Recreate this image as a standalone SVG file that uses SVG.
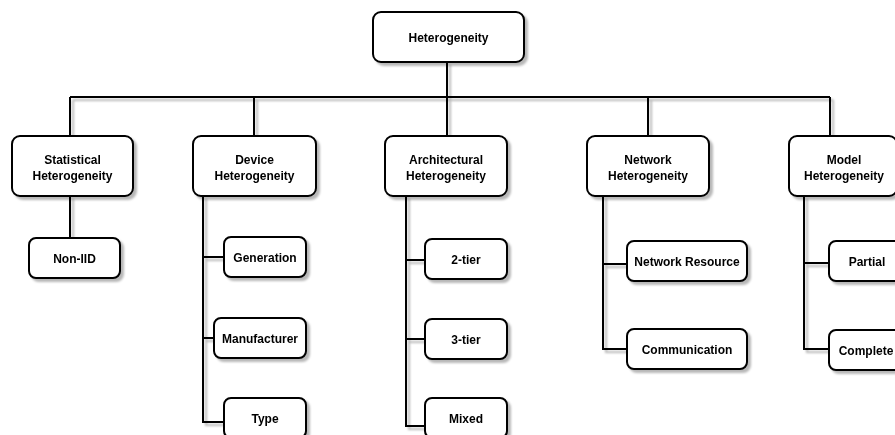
<svg xmlns="http://www.w3.org/2000/svg" width="895" height="435" viewBox="0 0 895 435">
  <defs>
    <filter id="shadow" x="-10%" y="-10%" width="130%" height="130%">
      <feDropShadow dx="3" dy="3" stdDeviation="0.8" flood-color="#000" flood-opacity="0.28"/>
    </filter>
    <style>
      .box { fill: #fff; stroke: #000; stroke-width: 2; }
      .lbl { font-family: "Liberation Sans", Arial, Helvetica, sans-serif; font-size: 12px; font-weight: bold; fill: #000; text-anchor: middle; }
      .wire { fill: none; stroke: #000; stroke-width: 2; }
    </style>
  </defs>
  <rect width="895" height="435" fill="#fff"/>

  <!-- connectors -->
  <g id="connectors" class="wire" filter="url(#shadow)">
    <path d="M447 62 V97"/>
    <path d="M70 97 H830"/>
    <path d="M70 97 V136 M254 97 V136 M447 97 V136 M648 97 V136 M830 97 V136"/>
    <path d="M70 196 V238"/>
    <path d="M203 196 V422 H224 M203 257 H224 M203 338 H214"/>
    <path d="M406 196 V426 H425 M406 260 H425 M406 339 H425"/>
    <path d="M603 196 V349 H627 M603 264 H627"/>
    <path d="M804 196 V349 H829 M804 263 H829"/>
  </g>

  <!-- root -->
  <g id="heterogeneity" filter="url(#shadow)">
    <rect class="box" x="373" y="12" width="151" height="50" rx="8"/>
    <text class="lbl" x="448.5" y="41.5">Heterogeneity</text>
  </g>

  <!-- categories -->
  <g id="statistical" filter="url(#shadow)">
    <rect class="box" x="12" y="136" width="121" height="60" rx="8"/>
    <text class="lbl" x="72.5" y="164">Statistical</text>
    <text class="lbl" x="72.5" y="180">Heterogeneity</text>
  </g>
  <g id="device" filter="url(#shadow)">
    <rect class="box" x="193" y="136" width="123" height="60" rx="8"/>
    <text class="lbl" x="254.5" y="164">Device</text>
    <text class="lbl" x="254.5" y="180">Heterogeneity</text>
  </g>
  <g id="architectural" filter="url(#shadow)">
    <rect class="box" x="385" y="136" width="122" height="60" rx="8"/>
    <text class="lbl" x="446" y="164">Architectural</text>
    <text class="lbl" x="446" y="180">Heterogeneity</text>
  </g>
  <g id="network" filter="url(#shadow)">
    <rect class="box" x="587" y="136" width="122" height="60" rx="8"/>
    <text class="lbl" x="648" y="164">Network</text>
    <text class="lbl" x="648" y="180">Heterogeneity</text>
  </g>
  <g id="model" filter="url(#shadow)">
    <rect class="box" x="789" y="136" width="108" height="60" rx="8"/>
    <text class="lbl" x="844" y="164">Model</text>
    <text class="lbl" x="844" y="180">Heterogeneity</text>
  </g>

  <!-- leaves -->
  <g id="non-iid" filter="url(#shadow)">
    <rect class="box" x="29" y="238" width="91" height="40" rx="7"/>
    <text class="lbl" x="74.5" y="262.5">Non-IID</text>
  </g>
  <g id="generation" filter="url(#shadow)">
    <rect class="box" x="224" y="237" width="82" height="40" rx="7"/>
    <text class="lbl" x="265" y="261.5">Generation</text>
  </g>
  <g id="manufacturer" filter="url(#shadow)">
    <rect class="box" x="214" y="318" width="92" height="40" rx="7"/>
    <text class="lbl" x="260" y="342.5">Manufacturer</text>
  </g>
  <g id="type" filter="url(#shadow)">
    <rect class="box" x="224" y="398" width="82" height="40" rx="7"/>
    <text class="lbl" x="265" y="422.5">Type</text>
  </g>
  <g id="two-tier" filter="url(#shadow)">
    <rect class="box" x="425" y="239" width="82" height="40" rx="7"/>
    <text class="lbl" x="466" y="263.5">2-tier</text>
  </g>
  <g id="three-tier" filter="url(#shadow)">
    <rect class="box" x="425" y="319" width="82" height="40" rx="7"/>
    <text class="lbl" x="466" y="343.5">3-tier</text>
  </g>
  <g id="mixed" filter="url(#shadow)">
    <rect class="box" x="425" y="398" width="82" height="40" rx="7"/>
    <text class="lbl" x="466" y="422.5">Mixed</text>
  </g>
  <g id="network-resource" filter="url(#shadow)">
    <rect class="box" x="627" y="241" width="120" height="40" rx="7"/>
    <text class="lbl" x="687" y="265.5">Network Resource</text>
  </g>
  <g id="communication" filter="url(#shadow)">
    <rect class="box" x="627" y="329" width="120" height="40" rx="7"/>
    <text class="lbl" x="687" y="353.5">Communication</text>
  </g>
  <g id="partial" filter="url(#shadow)">
    <rect class="box" x="829" y="241" width="76" height="40" rx="7"/>
    <text class="lbl" x="867" y="265.5">Partial</text>
  </g>
  <g id="complete" filter="url(#shadow)">
    <rect class="box" x="829" y="330" width="76" height="40" rx="7"/>
    <text class="lbl" x="866" y="354.5">Complete</text>
  </g>
</svg>
